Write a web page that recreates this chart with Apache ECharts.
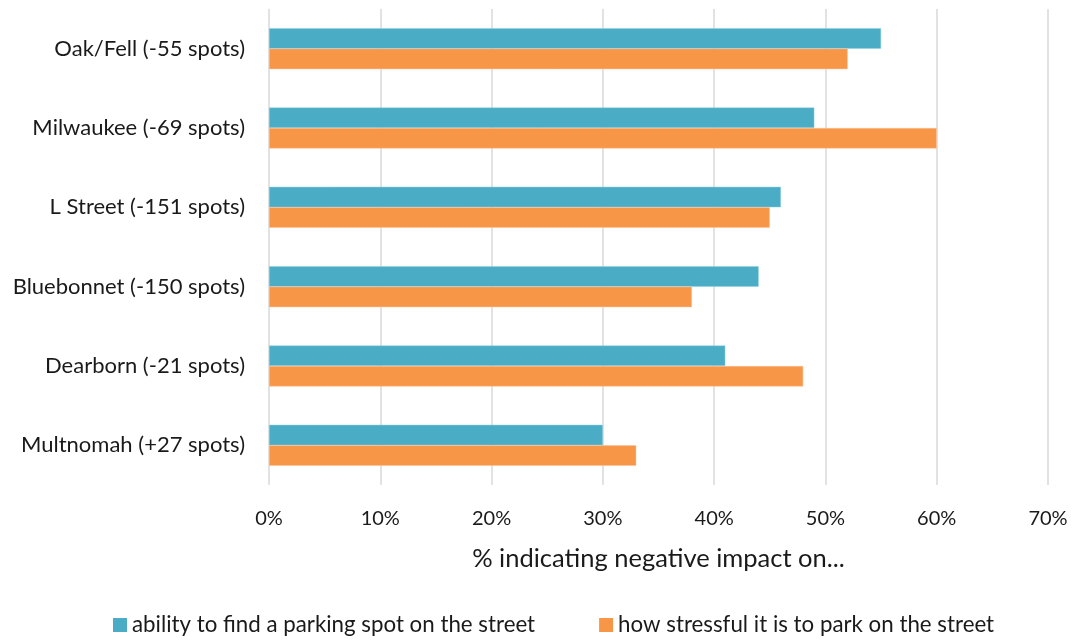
<!DOCTYPE html>
<html>
<head>
<meta charset="utf-8">
<script src="https://cdn.jsdelivr.net/npm/echarts@6/dist/echarts.min.js"></script>
<style>
html,body{margin:0;padding:0;background:#fff;}
#chart{width:1075px;height:641px;}
</style>
</head>
<body>
<div id="chart"></div>
<script>
const categories = ["Oak/Fell (-55 spots)", "Milwaukee (-69 spots)", "L Street (-151 spots)", "Bluebonnet (-150 spots)", "Dearborn (-21 spots)", "Multnomah (+27 spots)"];
const seriesNames = ["ability to find a parking spot on the street", "how stressful it is to park on the street"];
const findSpot = [55, 49, 46, 44, 41, 30];
const stressful = [52, 60, 45, 38, 48, 33];
const xTicks = [0, 10, 20, 30, 40, 50, 60, 70];

const FONT = "Lato";
const TXT = '#1a1a1a';
const chart = echarts.init(document.getElementById('chart'));
chart.setOption({
  animation: false,
  textStyle: { fontFamily: FONT, color: TXT },
  grid: { left: 269, right: 27, top: 9, bottom: 156, containLabel: false },
  legend: {
    bottom: 0,
    left: 108,
    itemGap: 64,
    itemWidth: 14,
    itemHeight: 14,
    icon: 'rect',
    itemStyle: { borderWidth: 0 },
    textStyle: { fontFamily: FONT, fontSize: 22.3, color: TXT },
    data: seriesNames
  },
  xAxis: {
    type: 'value',
    min: xTicks[0],
    max: xTicks[xTicks.length - 1],
    interval: 10,
    axisLine: { show: false },
    axisTick: { show: false },
    splitLine: { lineStyle: { color: '#d9d9d9', width: 1.5 } },
    axisLabel: { formatter: '{value}%', fontSize: 20, margin: 24, color: TXT, fontFamily: FONT },
    name: '% indicating negative impact on...',
    nameLocation: 'middle',
    nameGap: 61,
    nameTextStyle: { fontSize: 25.5, color: TXT, fontFamily: FONT }
  },
  yAxis: {
    type: 'category',
    data: categories,
    inverse: true,
    axisLine: { show: false },
    axisTick: { show: false },
    axisLabel: { fontSize: 22, margin: 24, color: TXT, fontFamily: FONT }
  },
  series: [
    {
      name: seriesNames[0], type: 'bar', data: findSpot,
      barWidth: 20.5, barGap: '0%',
      itemStyle: { color: '#4bacc6', borderColor: '#8fd0e0', borderWidth: 0.5 }
    },
    {
      name: seriesNames[1], type: 'bar', data: stressful,
      barWidth: 20.5, barGap: '0%',
      itemStyle: { color: '#f79646', borderColor: '#fbc39a', borderWidth: 0.5 }
    }
  ]
});
</script>
</body>
</html>
